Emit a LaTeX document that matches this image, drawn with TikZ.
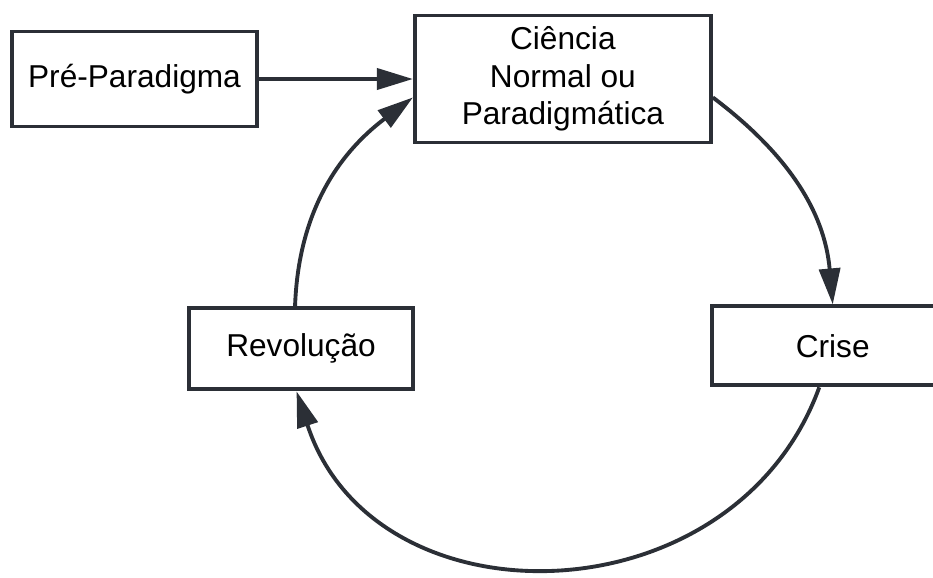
\documentclass[tikz,border=0pt]{standalone}
\usepackage{fontspec}
\setmainfont{Liberation Sans}
\usetikzlibrary{positioning,arrows.meta}
\definecolor{tinta}{HTML}{2B2F36}

\begin{document}
\begin{tikzpicture}[
  caixa/.style={rectangle, draw=tinta, line width=1.1pt, text centered, align=center, inner sep=0pt, font=\fontsize{9}{10.7}\selectfont},
  relacao/.style={-{Triangle[length=3.6mm, width=2.1mm]}, draw=tinta, line width=1.1pt}
]
\clip (0,0) rectangle (9.33,-5.77);

% Caixas
\node[caixa, minimum width=2.45cm, minimum height=0.95cm] (preparadigma) at (1.345,-0.79) {Pré-Paradigma};
\node[caixa, minimum width=2.96cm, minimum height=1.27cm, right=1.54cm of preparadigma] (ciencia) {Ciência\\Normal ou\\Paradigmática};
\node[caixa, minimum width=2.42cm, minimum height=0.79cm, below right=1.6cm and -0.03cm of ciencia] (crise) {Crise};
\node[caixa, minimum width=2.24cm, minimum height=0.81cm, below left=1.62cm and -0.02cm of ciencia] (revolucao) {Revolução};

% Setas
\draw[relacao] (preparadigma.east) -- (preparadigma.east -| ciencia.west);
\draw[relacao] (ciencia.-7) to[out=-37, in=95] (crise.north);
\draw[relacao] (crise.-108) to[out=-110, in=-72, distance=2.5cm] (revolucao.-96);
\draw[relacao] (revolucao.98) to[out=88, in=217] (ciencia.187);

\end{tikzpicture}
\end{document}
